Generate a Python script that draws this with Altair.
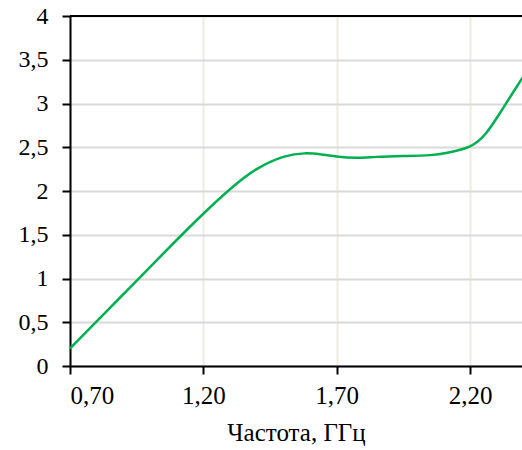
import altair as alt
import pandas as pd

freq = [0.70, 0.80, 0.90, 1.00, 1.10, 1.20, 1.30, 1.40, 1.50, 1.58, 1.65, 1.70,
        1.77, 1.85, 1.95, 2.05, 2.12, 2.20, 2.26, 2.31, 2.36, 2.40]
vals = [0.20, 0.51, 0.82, 1.13, 1.44, 1.74, 2.02, 2.25, 2.39, 2.43, 2.415, 2.395,
        2.38, 2.39, 2.40, 2.41, 2.44, 2.51, 2.66, 2.88, 3.12, 3.31]
x_ticks = [0.70, 1.20, 1.70, 2.20]
y_ticks = [0, 0.5, 1, 1.5, 2, 2.5, 3, 3.5, 4]

df = pd.DataFrame({"f": freq, "v": vals})

FONT = "Liberation Serif"

xscale = alt.Scale(domain=[0.70, 2.395], nice=False, zero=False)
yscale = alt.Scale(domain=[0, 4], nice=False)

common = dict(labelFont=FONT, titleFont=FONT,
              labelColor="#000000", titleColor="#000000", titleFontWeight="normal",
              domainColor="#000000", domainWidth=2,
              tickColor="#000000", tickWidth=2, tickSize=8, grid=True, gridWidth=2)

line = alt.Chart(df).mark_line(color="#00B050", strokeWidth=2.5, interpolate="natural", clip=True).encode(
    x=alt.X("f:Q", scale=xscale,
            axis=alt.Axis(values=x_ticks, title="Частота, ГГц",
                          labelExpr="replace(format(datum.value, '.2f'), '.', ',')",
                          labelFontSize=25, titleFontSize=25,
                          gridColor="#EFEBE1", labelPadding=9, titlePadding=12, **common)),
    y=alt.Y("v:Q", scale=yscale,
            axis=alt.Axis(values=y_ticks, title=None,
                          labelExpr="replace(toString(datum.value), '.', ',')",
                          labelFontSize=24,
                          gridColor="#D9D9D9", labelPadding=14, **common)),
)

top = alt.Chart(pd.DataFrame({"y": [4]})).mark_rule(color="#000000", strokeWidth=2).encode(
    y=alt.Y("y:Q", scale=yscale)
)

chart = alt.layer(top, line).properties(
    width=452, height=350,
    background="white",
    autosize=alt.AutoSizeParams(type="none"),
    padding={"left": 70, "top": 16, "right": 0, "bottom": 84},
).configure_view(stroke=None)

chart.save("out.html", embed_options={"renderer": "svg", "actions": False})
